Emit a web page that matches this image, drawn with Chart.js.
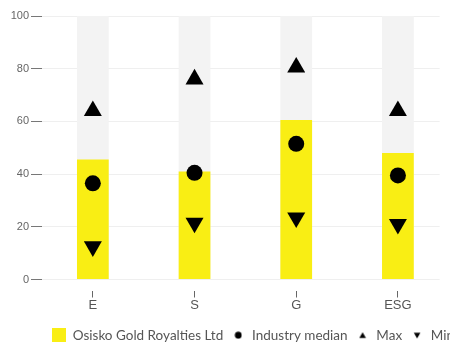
<!DOCTYPE html>
<html>
<head>
<meta charset="utf-8">
<script src="https://cdn.jsdelivr.net/npm/chart.js@4/dist/chart.umd.min.js"></script>
<style>
  html, body { margin: 0; padding: 0; background: #fff; }
  canvas { display: block; }
</style>
</head>
<body>
<canvas id="esgChart" width="450" height="343"></canvas>
<script>
const categories = ['E', 'S', 'G', 'ESG'];
const company = [45.5, 41, 60.5, 48];
const median = [36.5, 40.5, 51.5, 39.5];
const maxScore = [64, 76, 80.5, 64];
const minScore = [12.5, 21.5, 23.5, 21];
const fullScale = [100, 100, 100, 100];
const yTicks = [0, 20, 40, 60, 80, 100];

const YELLOW = '#f9ee14';

// categories sit on a numeric axis so the last slot can run past the right edge
const xy = values => values.map((v, i) => ({ x: i, y: v }));

// little canvases used as legend markers
function marker(w, h, draw) {
    const c = document.createElement('canvas');
    c.width = w;
    c.height = h;
    const ctx = c.getContext('2d');
    draw(ctx);
    return c;
}
const squareIcon = marker(14, 14, ctx => { ctx.fillStyle = YELLOW; ctx.fillRect(0, 0, 14, 14); });
const dotIcon = marker(8, 8, ctx => {
    ctx.fillStyle = '#000';
    ctx.beginPath(); ctx.arc(4, 4, 3.4, 0, Math.PI * 2); ctx.fill();
});
const upIcon = marker(8, 8, ctx => {
    ctx.fillStyle = '#000';
    ctx.beginPath(); ctx.moveTo(4, 1); ctx.lineTo(7.3, 6.8); ctx.lineTo(0.7, 6.8); ctx.closePath(); ctx.fill();
});
const downIcon = marker(8, 8, ctx => {
    ctx.fillStyle = '#000';
    ctx.beginPath(); ctx.moveTo(0.7, 1.5); ctx.lineTo(7.3, 1.5); ctx.lineTo(4, 7.3); ctx.closePath(); ctx.fill();
});

function pointSet(label, data, style, radius, rotation, icon) {
    return {
        type: 'line',
        label: label,
        data: xy(data),
        showLine: false,
        pointStyle: style,
        pointRotation: rotation,
        pointRadius: radius,
        pointHoverRadius: radius,
        pointBorderWidth: 0,
        pointBackgroundColor: '#000',
        backgroundColor: '#000',
        borderColor: '#000',
        order: 0,
        icon: icon
    };
}

// start the legend under the plot and let it hang off the bottom
const legendShift = {
    id: 'legendShift',
    afterLayout(chart) {
        const lg = chart.legend;
        const dx = chart.chartArea.left + 2 - lg.left;
        lg.left += dx;
        lg.right += dx;
        lg.top += 9;
        lg.bottom += 9;
    }
};

new Chart(document.getElementById('esgChart'), {
    type: 'bar',
    data: {
        datasets: [
            pointSet('Industry median', median, 'circle', 8, 0, dotIcon),
            pointSet('Max', maxScore, 'triangle', 10.4, 0, upIcon),
            pointSet('Min', minScore, 'triangle', 10.4, 180, downIcon),
            {
                label: 'Osisko Gold Royalties Ltd',
                data: xy(company),
                backgroundColor: YELLOW,
                grouped: false,
                barPercentage: 0.312,
                categoryPercentage: 1,
                order: 1,
                icon: squareIcon
            },
            {
                label: 'range',
                data: xy(fullScale),
                backgroundColor: '#f3f3f3',
                grouped: false,
                barPercentage: 0.312,
                categoryPercentage: 1,
                order: 2
            }
        ]
    },
    plugins: [legendShift],
    options: {
        responsive: false,
        animation: false,
        layout: { padding: { top: 16 } },
        plugins: {
            tooltip: { enabled: false },
            legend: {
                position: 'bottom',
                align: 'start',
                labels: {
                    usePointStyle: true,
                    pointStyleWidth: 14,
                    padding: 8,
                    color: '#555',
                    font: { family: 'Lato', size: 13.5 },
                    generateLabels: function(chart) {
                        const ds = chart.data.datasets;
                        return [3, 0, 1, 2].map(i => ({
                            text: ds[i].label,
                            datasetIndex: i,
                            pointStyle: ds[i].icon,
                            fillStyle: '#000',
                            strokeStyle: 'transparent',
                            lineWidth: 0,
                            fontColor: '#555',
                            hidden: false
                        }));
                    }
                }
            }
        },
        scales: {
            x: {
                type: 'linear',
                offset: false,
                bounds: 'data',
                min: -0.5,
                max: 3.41,
                afterBuildTicks: function(scale) {
                    scale.ticks = categories.map((c, i) => ({ value: i }));
                    scale.min = -0.5;
                    scale.max = 3.41;
                },
                afterFit: function(scale) { scale.height = 32; },
                border: { display: false },
                grid: {
                    offset: false,
                    drawOnChartArea: false,
                    tickLength: 18,
                    tickBorderDash: [0, 11, 7],
                    tickColor: '#666'
                },
                ticks: {
                    color: '#555',
                    padding: 0,
                    autoSkip: false,
                    maxRotation: 0,
                    font: { family: 'Liberation Sans', size: 13 },
                    callback: value => categories[value]
                }
            },
            y: {
                min: 0,
                max: 100,
                afterFit: function(scale) { scale.width = 42; },
                afterBuildTicks: function(scale) { scale.ticks = yTicks.map(v => ({ value: v })); },
                border: { display: false },
                grid: {
                    color: '#efefef',
                    tickColor: '#777',
                    tickLength: 11
                },
                ticks: {
                    color: '#666',
                    padding: 2,
                    font: { family: 'Liberation Sans', size: 11 }
                }
            }
        }
    }
});
</script>
</body>
</html>
